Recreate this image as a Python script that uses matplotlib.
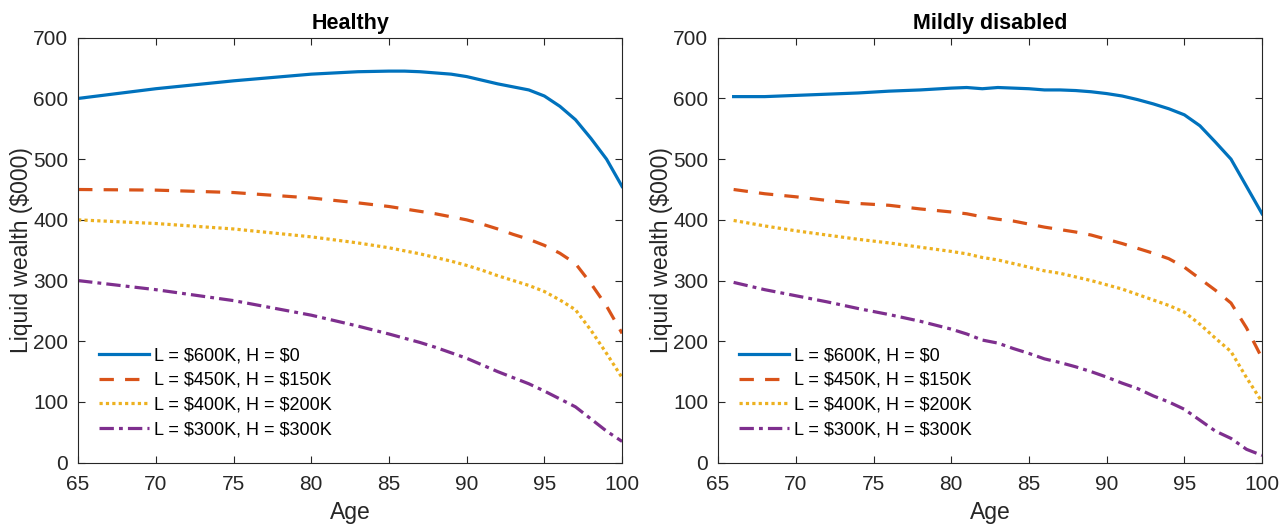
"""
Liquid wealth by age for four liquid/housing splits, healthy vs mildly disabled.
Writes out.png.
"""
import matplotlib
matplotlib.use("Agg")
import matplotlib.pyplot as plt

plt.rcParams["font.family"] = ["Liberation Sans", "DejaVu Sans"]
plt.rcParams["text.parse_math"] = False

# MATLAB default line colours
COLORS = ["#0072BD", "#D95319", "#EDB120", "#7E2F8E"]
STYLES = ["-", (0, (4.5, 3.5)), (0, (1, 1)), (0, (4.5, 1.6, 1.2, 1.6))]
LABELS = ["L = $600K, H = $0", "L = $450K, H = $150K",
          "L = $400K, H = $200K", "L = $300K, H = $300K"]

# Healthy
age_h = [65, 70, 75, 80, 83, 85, 86, 87, 88, 89, 90, 91, 92, 93, 94, 95, 96, 97, 98, 99, 100]
healthy_600 = [600, 616, 629, 640, 644, 645, 645, 644, 642, 640, 636, 630, 624, 619, 614,
               604, 587, 565, 534, 500, 455]
healthy_450 = [450, 449, 445, 436, 428, 422, 418, 414, 410, 405, 400, 393, 385, 376, 368,
               358, 345, 328, 295, 258, 213]
healthy_400 = [400, 394, 385, 372, 362, 354, 349, 344, 338, 332, 325, 317, 308, 300, 292,
               282, 268, 252, 218, 180, 140]
healthy_300 = [300, 285, 267, 243, 225, 212, 205, 198, 190, 181, 172, 161, 150, 140, 130,
               118, 105, 92, 72, 52, 35]

# Mildly disabled
age_d = [66, 68, 70, 72, 74, 76, 78, 80, 81, 82, 83, 84, 85, 86, 87, 88, 89, 90,
         91, 92, 93, 94, 95, 96, 97, 98, 99, 100]
disabled_600 = [603, 603, 605, 607, 609, 612, 614, 617, 618, 616, 618, 617, 616, 614,
                614, 613, 611, 608, 604, 598, 591, 583, 573, 555, 528, 500, 455, 410]
disabled_450 = [450, 443, 438, 432, 427, 424, 418, 413, 410, 405, 401, 398, 393, 388,
                384, 380, 375, 368, 361, 353, 345, 336, 322, 303, 284, 263, 222, 172]
disabled_400 = [399, 390, 382, 375, 368, 362, 355, 348, 344, 338, 334, 328, 322, 316,
                312, 306, 300, 293, 286, 277, 268, 259, 248, 228, 205, 183, 140, 100]
disabled_300 = [297, 285, 275, 265, 254, 244, 233, 220, 212, 202, 197, 188, 180, 171,
                165, 158, 150, 141, 131, 122, 110, 100, 88, 70, 52, 40, 22, 12]

PANELS = [
    ("Healthy", age_h, [healthy_600, healthy_450, healthy_400, healthy_300]),
    ("Mildly disabled", age_d, [disabled_600, disabled_450, disabled_400, disabled_300]),
]

fig = plt.figure(figsize=(12.8, 5.24), dpi=100)
axes = [fig.add_axes([0.061, 0.117, 0.425, 0.811]),
        fig.add_axes([0.561, 0.117, 0.425, 0.811])]

for ax, (title, ages, series) in zip(axes, PANELS):
    for ys, c, ls, lab in zip(series, COLORS, STYLES, LABELS):
        ax.plot(ages, ys, color=c, linestyle=ls, lw=2.3, label=lab)
    ax.set_xlim(65, 100)
    ax.set_ylim(0, 700)
    ax.set_xticks(range(65, 101, 5))
    ax.set_yticks(range(0, 701, 100))
    ax.tick_params(direction="in", top=True, right=True, length=5, width=0.8,
                   labelsize=15, colors="#262626", pad=7)
    ax.tick_params(axis="x", pad=9)
    for sp in ax.spines.values():
        sp.set_color("#262626")
        sp.set_linewidth(0.8)
    ax.set_title(title, fontsize=15.5, fontweight="bold", pad=6)
    ax.set_xlabel("Age", fontsize=16.5, color="#262626", labelpad=5)
    ax.set_ylabel("Liquid wealth ($000)", fontsize=16.5, color="#262626", labelpad=0)
    ax.legend(loc="lower left", bbox_to_anchor=(0.025, 0.04), frameon=False,
              fontsize=13, handlelength=2.8, handletextpad=0.25,
              labelspacing=0.43, borderaxespad=0)

fig.savefig("out.png", dpi=100)
